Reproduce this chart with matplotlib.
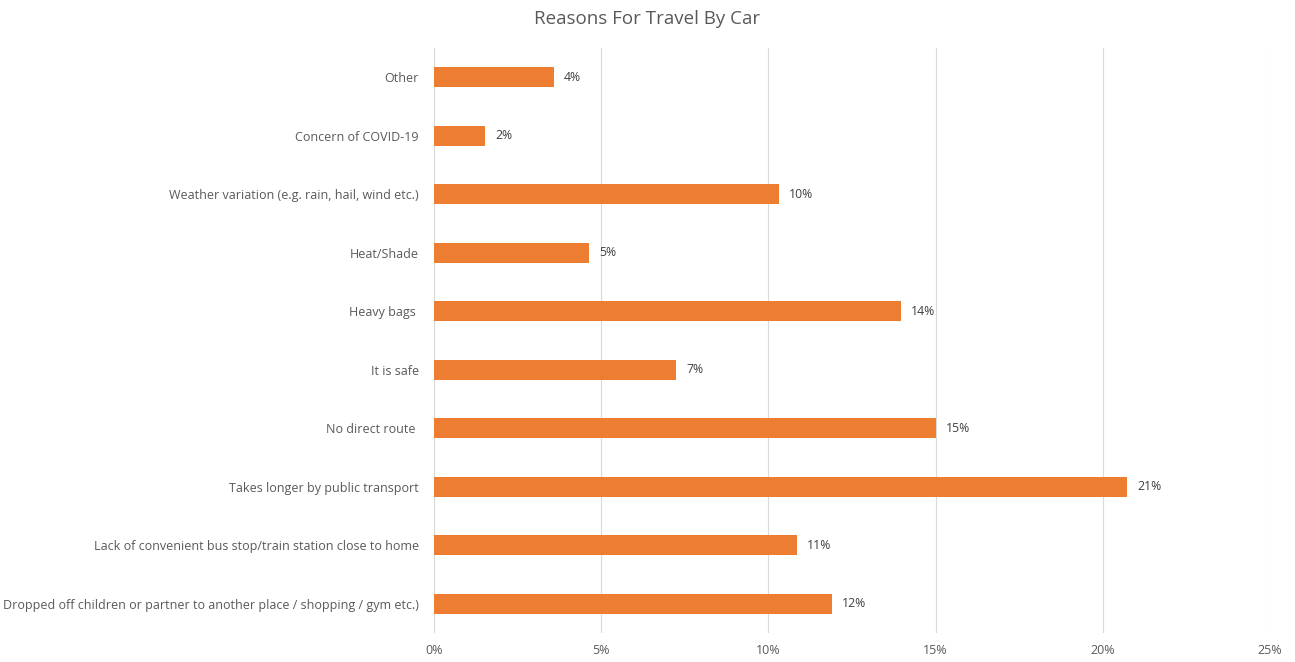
import matplotlib.pyplot as plt
from matplotlib.ticker import PercentFormatter

# Reasons given for choosing the car, share of responses
reasons = [
    "Dropped off children or partner to another place / shopping / gym etc.)",
    "Lack of convenient bus stop/train station close to home",
    "Takes longer by public transport",
    "No direct route ",
    "It is safe",
    "Heavy bags ",
    "Heat/Shade",
    "Weather variation (e.g. rain, hail, wind etc.)",
    "Concern of COVID-19",
    "Other",
]
shares = [0.119, 0.1086, 0.2072, 0.1501, 0.0724, 0.1397, 0.0464, 0.1032, 0.0153, 0.0359]
x_ticks = [0, 0.05, 0.10, 0.15, 0.20, 0.25]

plt.rcParams["font.family"] = ["Open Sans", "DejaVu Sans"]
text_color = "#595959"
bar_color = "#ED7D31"

fig = plt.figure(figsize=(12.95, 6.62), dpi=100)
ax = fig.add_axes([0.3351, 0.0438, 0.6456, 0.8837])

ypos = range(len(reasons))
ax.barh(ypos, shares, height=0.34, color=bar_color, zorder=3)

for y, v in zip(ypos, shares):
    ax.text(v + 0.003, y, f"{v:.0%}", va="center", ha="left",
            fontsize=8.8, color="#404040")

ax.set_xlim(0, 0.25)
ax.set_ylim(-0.5, len(reasons) - 0.5)
ax.set_xticks(x_ticks)
ax.xaxis.set_major_formatter(PercentFormatter(1.0, decimals=0))
ax.set_yticks(list(ypos))
ax.set_yticklabels(reasons)
ax.tick_params(axis="both", length=0, labelsize=9, labelcolor=text_color)
ax.tick_params(axis="y", pad=11)
ax.tick_params(axis="x", pad=8)

ax.grid(axis="x", color="#D9D9D9", linewidth=0.8, zorder=0)
for s in ax.spines.values():
    s.set_visible(False)

fig.suptitle("Reasons For Travel By Car", fontsize=13.5, color=text_color,
             x=0.5, y=0.985)

fig.savefig("out.png", dpi=100)
